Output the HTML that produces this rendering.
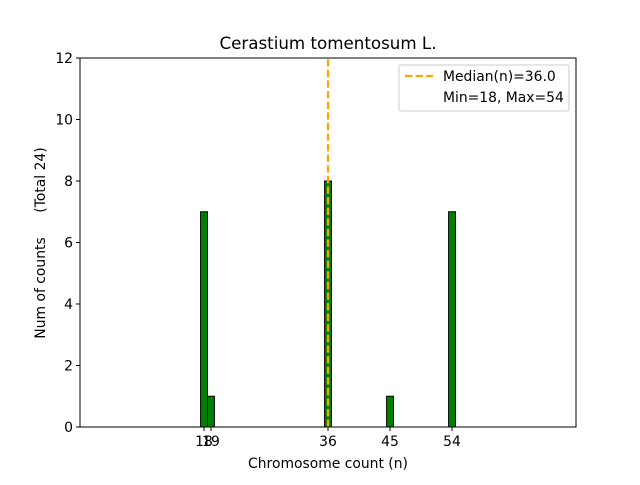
<!DOCTYPE html>
<html><head><style>body{margin:0;background:#fff}</style></head><body>
<svg width="640" height="480" xmlns="http://www.w3.org/2000/svg" font-family="DejaVu Sans, sans-serif" font-size="13.9">
<rect width="640" height="480" fill="#fff"/>
<g fill="#008000" stroke="#000" stroke-width="1">
<rect x="200.6" y="211.75" width="6.9" height="215.25"/>
<rect x="207.5" y="396.25" width="6.9" height="30.75"/>
<rect x="324.6" y="181" width="6.9" height="246"/>
<rect x="386.6" y="396.25" width="6.9" height="30.75"/>
<rect x="448.6" y="211.75" width="6.9" height="215.25"/>
</g>
<line x1="328" y1="427" x2="328" y2="58" stroke="#FFA500" stroke-width="2.2" stroke-dasharray="7.4,3.2"/>
<rect x="80" y="58" width="496" height="369" fill="none" stroke="#000" stroke-width="1"/>
<g stroke="#000">
<line x1="204" y1="427" x2="204" y2="431"/><line x1="211" y1="427" x2="211" y2="431"/>
<line x1="328" y1="427" x2="328" y2="431"/><line x1="390" y1="427" x2="390" y2="431"/><line x1="452" y1="427" x2="452" y2="431"/>
<line x1="76" y1="427" x2="80" y2="427"/><line x1="76" y1="365.5" x2="80" y2="365.5"/><line x1="76" y1="304" x2="80" y2="304"/><line x1="76" y1="242.5" x2="80" y2="242.5"/><line x1="76" y1="181" x2="80" y2="181"/><line x1="76" y1="119.5" x2="80" y2="119.5"/><line x1="76" y1="58" x2="80" y2="58"/>
</g>
<g text-anchor="middle">
<text x="204" y="446">18</text><text x="211" y="446">19</text><text x="328" y="446">36</text><text x="390" y="446">45</text><text x="452" y="446">54</text>
<text x="328" y="468">Chromosome count (n)</text>
<text x="328" y="49" font-size="16.7">Cerastium tomentosum L.</text>
</g>
<g text-anchor="end">
<text x="73" y="432">0</text><text x="73" y="370.5">2</text><text x="73" y="309">4</text><text x="73" y="247.5">6</text><text x="73" y="186">8</text><text x="73" y="124.5">10</text><text x="73" y="63">12</text>
</g>
<text transform="translate(45,288) rotate(-90)" text-anchor="middle">Num of counts</text>
<text transform="translate(45,180) rotate(-90)" text-anchor="middle">(Total 24)</text>
<rect x="399" y="65" width="170" height="46" rx="2" fill="#fff" stroke="#ccc"/>
<line x1="405" y1="76" x2="433" y2="76" stroke="#FFA500" stroke-width="2.2" stroke-dasharray="7.4,3.2"/>
<text x="443" y="81">Median(n)=36.0</text>
<text x="443" y="102">Min=18, Max=54</text>
</svg>
</body></html>
